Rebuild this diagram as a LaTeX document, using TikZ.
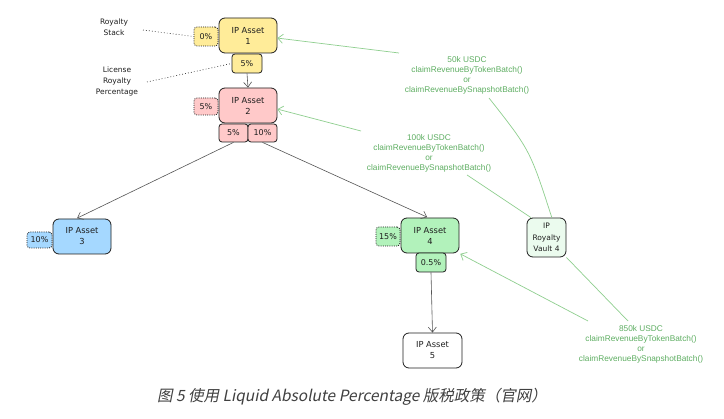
\documentclass[tikz,border=0pt]{standalone}
\usepackage{fontspec}
\setmainfont{DejaVu Sans}
\newfontfamily\greenfont{Liberation Sans}
\newfontfamily\cjkfont[FakeSlant=0.2]{Noto Sans CJK SC}
\usetikzlibrary{arrows.meta}
\definecolor{ink}{HTML}{1E1E1E}
\definecolor{yel}{HTML}{FFEC99}
\definecolor{pnk}{HTML}{FFC9C9}
\definecolor{blu}{HTML}{A5D8FF}
\definecolor{grn}{HTML}{B2F2BB}
\definecolor{vlt}{HTML}{EBFBEE}
\definecolor{gline}{HTML}{8FCF8F}
\definecolor{gtext}{HTML}{5EAE62}
\definecolor{conn}{HTML}{555555}
\begin{document}
\begin{tikzpicture}[x=1pt,y=-1pt,
  asset/.style={draw=ink, line width=0.8pt, rounded corners=6pt, minimum width=58pt, minimum height=35pt, inner sep=0pt, align=center, text=ink, font=\fontsize{8.3}{11}\selectfont},
  pct/.style={draw=ink, line width=0.8pt, rounded corners=3pt, minimum width=30pt, minimum height=19pt, inner sep=0pt, align=center, text=ink, font=\fontsize{8}{10}\selectfont},
  dotbox/.style={pct, dash pattern=on 1pt off 1.2pt, minimum width=24pt},
  note/.style={align=center, text=ink, font=\fontsize{7.5}{11}\selectfont},
  gnote/.style={align=center, text=gtext, font=\greenfont\fontsize{8.3}{10}\selectfont},
  blk/.style={draw=conn, line width=0.6pt, -{Straight Barb[length=5pt,width=8pt]}},
  grnarr/.style={draw=gline, line width=0.7pt, -{Straight Barb[length=5pt,width=9pt]}},
  grnln/.style={draw=gline, line width=0.7pt},
  dotln/.style={draw=ink, line width=0.6pt, dash pattern=on 0.8pt off 2.2pt}
]
\useasboundingbox[fill=white] (0,0) rectangle (724,419);

% IP Asset 1
\node[asset, fill=yel] (a1) at (248,35.5) {IP Asset\\1};
\node[dotbox, fill=yel] (r1) at (206,36.5) {0\%};
\node[pct, fill=yel] (l1) at (247,63.5) {5\%};

% IP Asset 2
\node[asset, fill=pnk] (a2) at (248,105.5) {IP Asset\\2};
\node[dotbox, fill=pnk, minimum height=17pt] (r2) at (206,106.5) {5\%};
\node[pct, fill=pnk, minimum width=29pt, minimum height=18pt] (l2a) at (233.5,133) {5\%};
\node[pct, fill=pnk, minimum width=29pt, minimum height=18pt] (l2b) at (262.5,133) {10\%};

% IP Asset 3
\node[asset, fill=blu] (a3) at (82,236.5) {IP Asset\\3};
\node[dotbox, fill=blu, minimum width=25pt, minimum height=16pt] (r3) at (39.5,240) {10\%};

% IP Asset 4
\node[asset, fill=grn] (a4) at (430,235.5) {IP Asset\\4};
\node[dotbox, fill=grn] (r4) at (388,236.5) {15\%};
\node[pct, fill=grn] (l4) at (431,262.5) {0.5\%};

% IP Asset 5
\node[asset, fill=white, minimum width=59pt] (a5) at (432.5,350.5) {IP Asset\\5};

% Vault
\node[asset, fill=vlt, minimum width=39pt, minimum height=39pt, font=\fontsize{7.5}{11.5}\selectfont] (v) at (546.5,237.5) {IP\\Royalty\\Vault 4};

% side notes
\node[note] (ns) at (114,27) {Royalty\\Stack};
\node[note] (nl) at (117,81) {License\\Royalty\\Percentage};
\draw[dotln] (143,30) coordinate (ns1) -- (r1.west);
\draw[dotln] (147,82) coordinate (nl1) -- (l1.west);

% black connectors
\draw[blk] (l1.south) -- (a2.north);
\draw[blk, shorten >=1pt] (l2a.south) -- (a3.108);
\draw[blk, shorten >=1pt] (l2b.south) -- (a4.96);
\draw[blk] (l4.south) -- (a5.north);

% green labels
\node[gnote] (t1) at (467,75.5) {50k USDC\\claimRevenueByTokenBatch()\\or\\claimRevenueBySnapshotBatch()};
\node[gnote] (t2) at (429,153) {100k USDC\\claimRevenueByTokenBatch()\\or\\claimRevenueBySnapshotBatch()};
\node[gnote] (t3) at (641,344) {850k USDC\\claimRevenueByTokenBatch()\\or\\claimRevenueBySnapshotBatch()};

\coordinate (t1a) at (399,53);
\coordinate (t1b) at (489,98);
\coordinate (t2a) at (361,131);
\coordinate (t2b) at (467,175);
\coordinate (t3a) at (588,321);
\coordinate (t3b) at (628,321);

% green connectors
\draw[grnln] (v.75) .. controls (530,150) .. (t1b);
\draw[grnarr] (t1a) -- (a1.-5);
\draw[grnln] (v.128) -- (t2b);
\draw[grnarr] (t2a) -- (a2.-7);
\draw[grnln] (v.south east) -- (t3b);
\draw[grnarr, shorten >=1pt] (t3a) -- (a4.south east);

% caption
\node[text=black!75, font=\cjkfont\fontsize{15.5}{18}\selectfont] (cap) at (352,397) {图 5 使用 Liquid Absolute Percentage 版税政策（官网）};
\end{tikzpicture}
\end{document}
